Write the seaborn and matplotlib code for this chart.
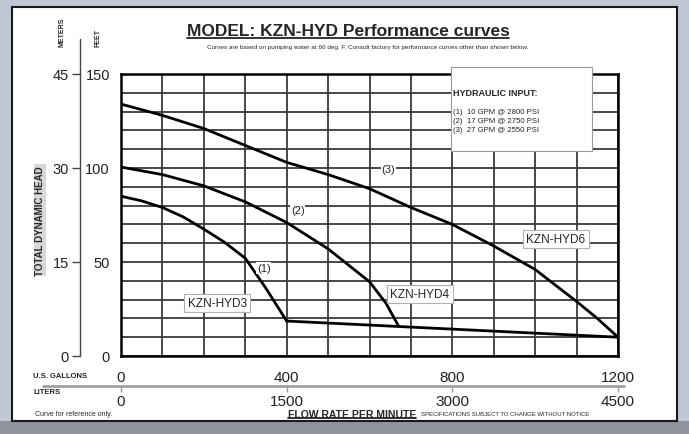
import numpy as np
import pandas as pd
import seaborn as sns
import matplotlib.pyplot as plt
from matplotlib.patches import Rectangle
from matplotlib.lines import Line2D

# curve data (flow in US GPM, head in feet)
hyd3_gpm = [0, 50, 100, 150, 200, 250, 300, 350, 400]
hyd3_ft = [85, 82.5, 79, 74, 67.5, 60.5, 52, 36, 18.6]
hyd4_gpm = [0, 100, 200, 300, 400, 500, 600, 640, 670]
hyd4_ft = [100.5, 96.5, 90.5, 82, 71, 57, 39.5, 28, 16]
hyd6_gpm = [0, 100, 200, 300, 400, 500, 600, 700, 800, 900, 1000, 1100, 1150, 1200]
hyd6_ft = [134, 128, 121, 112, 103, 96.5, 89, 79, 70, 58.5, 46, 29, 20, 10]
base_gpm = [400, 1200]
base_ft = [18.6, 10]

curve_tags = ["(1)", "(2)", "(3)"]
tag_gpm = [345, 427, 645]
tag_ft = [46.8, 77.7, 99.5]
model_names = ["KZN-HYD3", "KZN-HYD4", "KZN-HYD6"]
model_gpm = [232, 722, 1050]
model_ft = [28.2, 33, 62.2]

gal_ticks = [0, 400, 800, 1200]
liter_ticks = [0, 1500, 3000, 4500]
feet_ticks = [0, 50, 100, 150]
meter_ticks = [0, 15, 30, 45]
hyd_lines = ["(1)  10 GPM @ 2800 PSI", "(2)  17 GPM @ 2750 PSI", "(3)  27 GPM @ 2550 PSI"]

df = pd.concat([
    pd.DataFrame({"gpm": hyd3_gpm, "ft": hyd3_ft, "curve": "hyd3"}),
    pd.DataFrame({"gpm": hyd4_gpm, "ft": hyd4_ft, "curve": "hyd4"}),
    pd.DataFrame({"gpm": hyd6_gpm, "ft": hyd6_ft, "curve": "hyd6"}),
    pd.DataFrame({"gpm": base_gpm, "ft": base_ft, "curve": "base"}),
])

sns.set_style("white")
plt.rcParams['font.family'] = ['Liberation Sans', 'DejaVu Sans']

W, H = 689, 435
fig = plt.figure(figsize=(W / 100, H / 100), dpi=100, facecolor='#c2c8d3')

def fx(px):
    return px / W

def fy(py):
    return 1 - py / H

# white sheet + bottom shadow
fig.add_artist(Rectangle((0, 0), 1, fy(422), transform=fig.transFigure,
                         facecolor='#8f949c', edgecolor='none', zorder=-3))
fig.add_artist(Rectangle((fx(12), fy(422)), fx(677) - fx(12), fy(8) - fy(422),
                         transform=fig.transFigure, facecolor='white',
                         edgecolor='#1a1a1a', lw=1.5, zorder=-2))

ax = fig.add_axes([fx(121), fy(357), fx(618) - fx(121), fy(75) - fy(357)])
ax.set_facecolor('white')

sns.lineplot(data=df, x="gpm", y="ft", units="curve", estimator=None,
             color='black', lw=2, sort=False, ax=ax, zorder=5)

ax.set_xlim(0, 1200)
ax.set_ylim(0, 150)
ax.set_xticks(gal_ticks)
ax.set_xticks(np.arange(0, 1201, 100), minor=True)
ax.set_yticks(feet_ticks)
ax.set_yticks(np.arange(0, 151, 10), minor=True)
ax.grid(True, which='both', color='#3a3a3a', lw=1.3)
ax.set_axisbelow(True)
ax.set_xlabel("")
ax.set_ylabel("")
for s in ax.spines.values():
    s.set_color('black')
    s.set_linewidth(1.8)
ax.tick_params(which='both', direction='out', color='black', width=1.3)
ax.tick_params(axis='x', which='major', length=5, pad=5, labelsize=11, labelcolor='#222')
ax.tick_params(axis='x', which='minor', length=5)
ax.tick_params(axis='y', which='major', length=5, pad=3, labelsize=10.5, labelcolor='#222')
ax.tick_params(axis='y', which='minor', length=4)

# meters scale
may = ax.secondary_yaxis((80 - 121) / 497, functions=(lambda f: f * 0.3, lambda m: m / 0.3))
may.set_yticks(meter_ticks)
may.tick_params(direction='out', length=6, width=1.0, pad=2, labelsize=10.5,
                color='#444', labelcolor='#222')
may.spines['left'].set_color('#444')
may.spines['left'].set_linewidth(1.0)
ax.plot([(80 - 121) / 497] * 2, [1, (357 - 40) / 282], transform=ax.transAxes,
        color='#444', lw=1.0, clip_on=False)

# liters scale
lax = ax.secondary_xaxis((357 - 387) / 282, functions=(lambda g: g * 3.75, lambda l: l / 3.75))
lax.set_xticks(liter_ticks)
lax.tick_params(direction='out', length=4, width=1.0, pad=2, labelsize=11,
                color='#999', labelcolor='#222')
lax.spines['bottom'].set_visible(False)
ax.plot([(43 - 121) / 497, (624 - 121) / 497], [(357 - 387) / 282] * 2,
        transform=ax.transAxes, color='#a0a0a0', lw=2, clip_on=False)

# curve labels
for t, x, y in zip(curve_tags, tag_gpm, tag_ft):
    ax.text(x, y, t, fontsize=8, ha='center', va='center', zorder=6,
            bbox=dict(facecolor='white', edgecolor='none', pad=0.5))
for t, x, y in zip(model_names, model_gpm, model_ft):
    ax.text(x, y, t, fontsize=8.5, ha='center', va='center', zorder=6,
            bbox=dict(facecolor='white', edgecolor='#b0b0b0', lw=0.8, pad=2.5))

# hydraulic input box
bx0, bx1 = (451 - 121) / 497, (592 - 121) / 497
by0, by1 = (357 - 152) / 282, (357 - 68) / 282
ax.add_patch(Rectangle((bx0, by0), bx1 - bx0, by1 - by0, transform=ax.transAxes,
                       facecolor='white', edgecolor='#999', lw=0.8, zorder=7, clip_on=False))
ax.text((453 - 121) / 497, (357 - 93) / 282, "HYDRAULIC INPUT:", transform=ax.transAxes,
        fontsize=6.5, fontweight='bold', va='center', zorder=8)
for i, line in enumerate(hyd_lines):
    ax.text((453 - 121) / 497, (357 - (112 + 9.5 * i)) / 282, line, transform=ax.transAxes,
            fontsize=5.6, va='center', zorder=8)

# header and side labels
title = fig.text(fx(348), fy(32), "MODEL: KZN-HYD Performance curves", fontsize=12.5,
                 fontweight='bold', ha='center', va='center')
fig.text(fx(368), fy(47), "Curves are based on pumping water at 60 deg. F. Consult factory for "
         "performance curves other than shown below.", fontsize=4.6, ha='center', va='center')
fig.text(fx(62), fy(32), "METERS", rotation=90, fontsize=5, fontweight='bold',
         ha='center', va='center')
fig.text(fx(98), fy(38), "FEET", rotation=90, fontsize=5, fontweight='bold',
         ha='center', va='center')
tdh = fig.text(fx(40), fy(221), "TOTAL DYNAMIC HEAD", rotation=90, fontsize=7,
               fontweight='bold', ha='center', va='center',
               bbox=dict(facecolor='#d8d8d8', edgecolor='none', pad=0.8))

fig.text(fx(33), fy(377), "U.S. GALLONS", fontsize=5.5, fontweight='bold', va='center')
fig.text(fx(33), fy(393), "LITERS", fontsize=5.5, fontweight='bold', va='center')
fig.text(fx(35), fy(415), "Curve for reference only.", fontsize=5, va='center')
flow = fig.text(fx(352), fy(415), "FLOW RATE PER MINUTE", fontsize=7.5, fontweight='bold',
                ha='center', va='center')
fig.text(fx(421), fy(415), "SPECIFICATIONS SUBJECT TO CHANGE WITHOUT NOTICE",
         fontsize=4.3, va='center')

# underlines
fig.canvas.draw()
inv = fig.transFigure.inverted()
for t in [title, flow]:
    bb = t.get_window_extent().transformed(inv)
    fig.add_artist(Line2D([bb.x0, bb.x1], [bb.y0 + 0.002] * 2, transform=fig.transFigure,
                          color='#222', lw=1.3))
bb = tdh.get_window_extent().transformed(inv)
fig.add_artist(Line2D([bb.x1 - 0.001] * 2, [bb.y0, bb.y1], transform=fig.transFigure,
                      color='#555', lw=1.0))

fig.savefig("out.png", dpi=100, facecolor=fig.get_facecolor())
